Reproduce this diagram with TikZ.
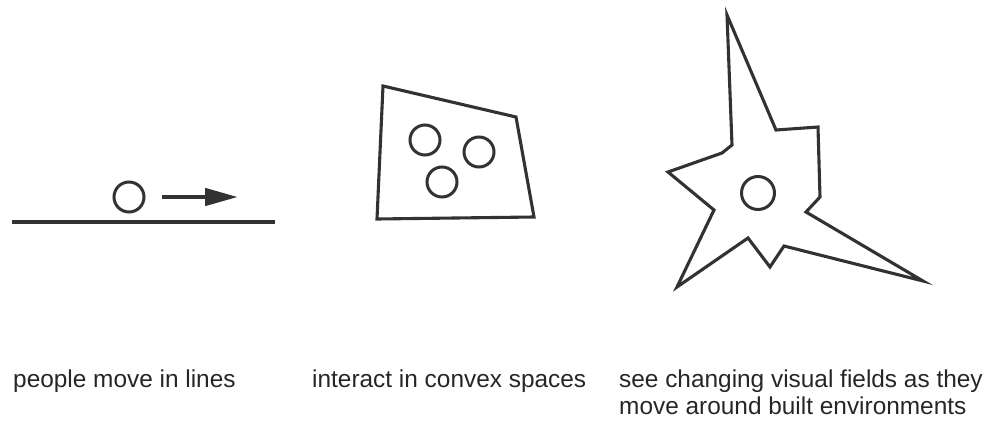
\documentclass[tikz,border=0pt]{standalone}
\usepackage{fontspec}
\setmainfont{Liberation Sans}
\usepackage{tikz}
\usetikzlibrary{positioning, arrows.meta}
\definecolor{myGray}{RGB}{50,50,50}
\colorlet{mInk}{myGray}

\begin{document}
\begin{tikzpicture}[
  x=1pt, y=-1pt,
  outline/.style={draw=mInk, line width=3.1pt, line join=miter},
  person/.style={circle, draw=mInk, line width=3pt, inner sep=0pt, minimum size=30pt},
  caption/.style={font=\fontsize{24.4}{27}\selectfont, anchor=base west, align=left, inner sep=0pt, text=black!85},
]
  \useasboundingbox (0,0) rectangle (994,423);
  \draw[outline] (12,222) -- (275,222);
  \node[person] (walker) at (129,197) {};
  \coordinate (walkFrom) at (162,197);
  \coordinate (walkTo) at (238,197);
  \draw[mInk, line width=4.5pt, -{Triangle[length=33pt, width=17pt]}] (walkFrom) -- (walkTo);
  \draw[outline] (383,86) -- (516,117) -- (534,217) -- (377,219) -- cycle;
  \node[person] (groupA) at (425,140) {};
  \node[person] (groupB) at (479,152) {};
  \node[person] (groupC) at (442,182) {};
  \draw[outline] (727,15) -- (776,130) -- (818,127) -- (820,197) -- (806,212)
    -- (923,281) -- (784,246) -- (770,267) -- (748,238) -- (677,287)
    -- (714,210) -- (668,172) -- (722,153) -- (732,145) -- cycle;
  \node[person, minimum size=33pt] (viewer) at (758,193) {};
  \node[caption] (lines) at (13,387) {people move in lines};
  \node[caption] (convex) at (312,387) {interact in convex spaces};
  \node[caption] (fields) at (619,414)
    {see changing visual fields as they\\move around built environments};
\end{tikzpicture}
\end{document}
